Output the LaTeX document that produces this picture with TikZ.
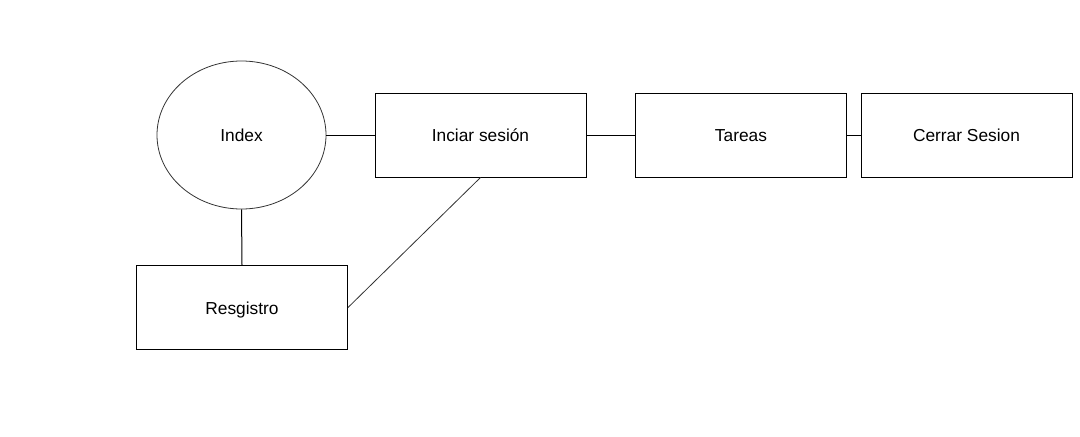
\documentclass[tikz,border=0pt]{standalone}
\usepackage{fontspec}
\setmainfont{Liberation Sans}
\usetikzlibrary{positioning,shapes.geometric}
\tikzset{
  box/.style={rectangle,draw=black,line width=0.75pt,minimum width=158.25pt,
    minimum height=63pt,inner sep=0pt,text height=11pt,text depth=1pt,
    font=\fontsize{13}{15}\selectfont},
  blob/.style={ellipse,draw=black!80,line width=0.6pt,minimum width=126.75pt,
    minimum height=111pt,inner sep=0pt,text height=11pt,text depth=1pt,
    font=\fontsize{13}{15}\selectfont},
  link/.style={draw=black,line width=0.75pt},
  slant/.style={draw=black!80,line width=0.6pt},
}
\begin{document}
\begin{tikzpicture}[x=0.75pt,y=-0.75pt]
  \useasboundingbox (0,0) rectangle (1080,436);

  \node[blob] (idx) at (241.5,135) {Index};
  \node[box] (ini) at (480.5,135) {Inciar sesión};
  \node[box] (tar) at (741,135) {Tareas};
  \node[box] (cer) at (966.5,135) {Cerrar Sesion};
  \node[box] (reg) at (242,307.5) {Resgistro};

  \foreach \a/\b in {idx.east/ini.west,ini.east/tar.west,tar.east/cer.west,idx.south/reg.north}
    \draw[link] (\a) -- (\b);
  \draw[slant] (ini.south) -- (reg.east);
\end{tikzpicture}
\end{document}
